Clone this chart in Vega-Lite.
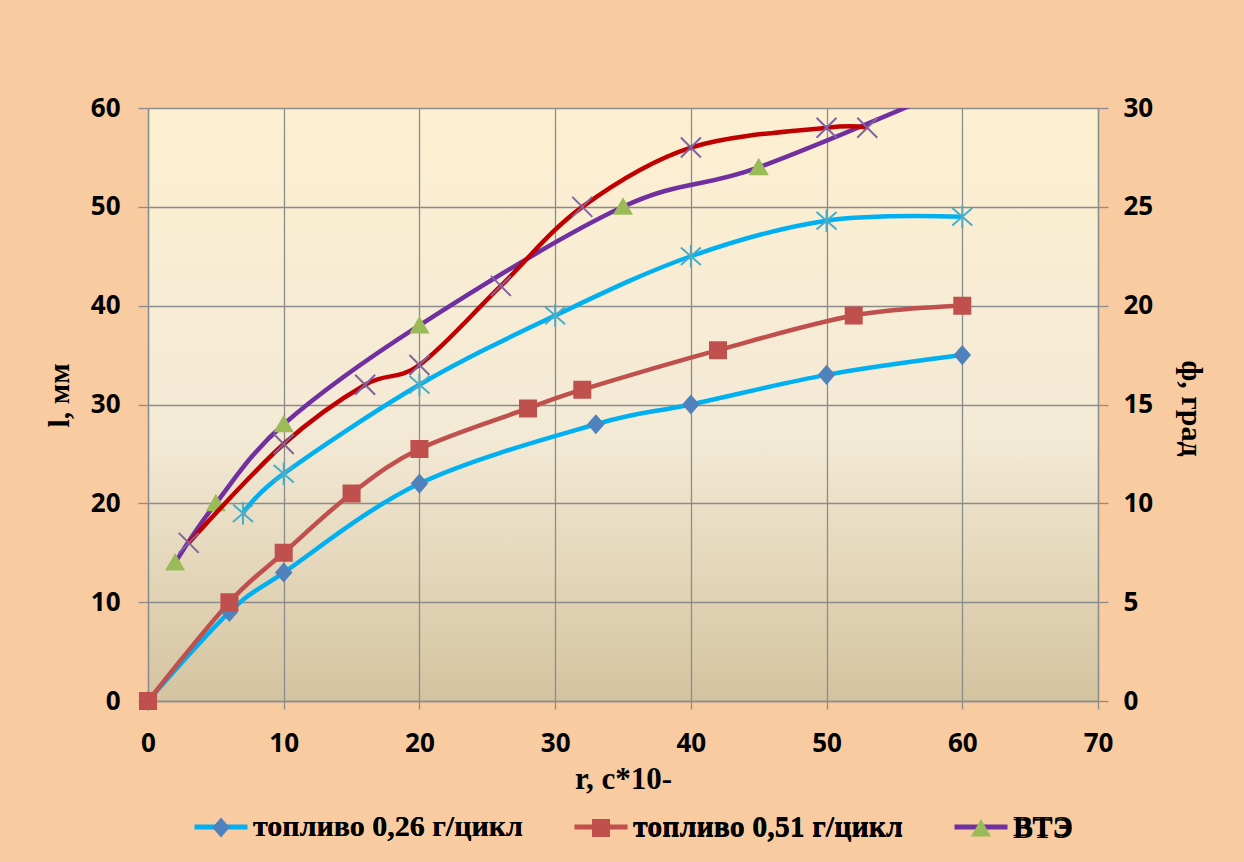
{
  "$schema": "https://vega.github.io/schema/vega-lite/v6.json",
  "width": 950,
  "height": 593,
  "autosize": {"type": "none"},
  "padding": {"left": 148, "top": 108, "right": 146, "bottom": 161},
  "background": "#f9cba0",
  "config": {
    "view": {
      "stroke": null,
      "fill": {"gradient": "linear", "x1": 0, "y1": 0, "x2": 0, "y2": 1,
        "stops": [{"offset": 0, "color": "#fdefd1"}, {"offset": 0.55, "color": "#f3ead6"}, {"offset": 1, "color": "#d4c39f"}]}
    },
    "axis": {
      "gridColor": "#8c8c8c", "gridWidth": 1.3, "gridOpacity": 1,
      "domainColor": "#8c8c8c", "domainWidth": 1.3,
      "tickColor": "#8c8c8c", "tickWidth": 1.3,
      "labelFont": "Open Sans", "labelFontWeight": "bold", "labelFontSize": 26, "labelColor": "#000000", "labelFlush": false,
      "titleFont": "Liberation Serif", "titleFontWeight": "bold", "titleFontSize": 30, "titleColor": "#000000"
    }
  },
  "datasets": {
    "left": [
      {"series": "топливо 0,26 г/цикл", "r": 0, "l": 0},
      {"series": "топливо 0,26 г/цикл", "r": 6, "l": 9},
      {"series": "топливо 0,26 г/цикл", "r": 10, "l": 13},
      {"series": "топливо 0,26 г/цикл", "r": 20, "l": 22},
      {"series": "топливо 0,26 г/цикл", "r": 33, "l": 28},
      {"series": "топливо 0,26 г/цикл", "r": 40, "l": 30},
      {"series": "топливо 0,26 г/цикл", "r": 50, "l": 33},
      {"series": "топливо 0,26 г/цикл", "r": 60, "l": 35},
      {"series": "топливо 0,51 г/цикл", "r": 0, "l": 0},
      {"series": "топливо 0,51 г/цикл", "r": 6, "l": 10},
      {"series": "топливо 0,51 г/цикл", "r": 10, "l": 15},
      {"series": "топливо 0,51 г/цикл", "r": 15, "l": 21},
      {"series": "топливо 0,51 г/цикл", "r": 20, "l": 25.5},
      {"series": "топливо 0,51 г/цикл", "r": 28, "l": 29.6},
      {"series": "топливо 0,51 г/цикл", "r": 32, "l": 31.5},
      {"series": "топливо 0,51 г/цикл", "r": 42, "l": 35.5},
      {"series": "топливо 0,51 г/цикл", "r": 52, "l": 39},
      {"series": "топливо 0,51 г/цикл", "r": 60, "l": 40},
      {"series": "ВТЭ", "r": 2, "l": 14},
      {"series": "ВТЭ", "r": 5, "l": 20},
      {"series": "ВТЭ", "r": 10, "l": 28},
      {"series": "ВТЭ", "r": 20, "l": 38},
      {"series": "ВТЭ", "r": 35, "l": 50},
      {"series": "ВТЭ", "r": 45, "l": 54},
      {"series": "ВТЭ", "r": 60, "l": 62.5}
    ],
    "right": [
      {"series": "φ 1", "r": 3, "phi": 8},
      {"series": "φ 1", "r": 10, "phi": 13},
      {"series": "φ 1", "r": 16, "phi": 16},
      {"series": "φ 1", "r": 20, "phi": 17},
      {"series": "φ 1", "r": 26, "phi": 21},
      {"series": "φ 1", "r": 32, "phi": 25},
      {"series": "φ 1", "r": 40, "phi": 28},
      {"series": "φ 1", "r": 50, "phi": 29},
      {"series": "φ 1", "r": 53, "phi": 29},
      {"series": "φ 2", "r": 7, "phi": 9.5},
      {"series": "φ 2", "r": 10, "phi": 11.5},
      {"series": "φ 2", "r": 20, "phi": 16},
      {"series": "φ 2", "r": 30, "phi": 19.5},
      {"series": "φ 2", "r": 40, "phi": 22.5},
      {"series": "φ 2", "r": 50, "phi": 24.3},
      {"series": "φ 2", "r": 60, "phi": 24.5}
    ]
  },
  "layer": [
    {
      "data": {"name": "left"},
      "encoding": {
        "x": {"field": "r", "type": "quantitative",
          "scale": {"domain": [0, 70], "nice": false, "zero": false},
          "axis": {"values": [0, 10, 20, 30, 40, 50, 60, 70], "grid": true, "tickSize": 8, "labelPadding": 21,
            "title": "r, с*10-", "titlePadding": 8, "titleFontSize": 31}},
        "y": {"field": "l", "type": "quantitative",
          "scale": {"domain": [0, 60], "nice": false},
          "axis": {"orient": "left", "values": [0, 10, 20, 30, 40, 50, 60], "grid": true, "tickSize": 10, "labelPadding": 18,
            "title": "l, мм", "titleX": -89, "titleY": 287, "titleAngle": -90, "titleBaseline": "middle", "titleAlign": "center"}}
      },
      "layer": [
        {
          "mark": {"type": "line", "interpolate": "cardinal", "strokeWidth": 4.5, "clip": true},
          "encoding": {
            "stroke": {"field": "series", "type": "nominal",
              "scale": {"domain": ["топливо 0,26 г/цикл", "топливо 0,51 г/цикл", "ВТЭ", "φ 1", "φ 2"],
                "range": ["#00B0F0", "#C0504D", "#7030A0", "#C00000", "#00B0F0"]},
              "legend": {"orient": "none", "legendX": 44, "legendY": 690, "direction": "horizontal", "title": null,
                "values": ["топливо 0,26 г/цикл", "топливо 0,51 г/цикл", "ВТЭ"],
                "symbolType": "stroke", "symbolSize": 2809, "symbolStrokeWidth": 5, "padding": 0,
                "labelFont": "Liberation Serif", "labelFontWeight": "bold", "labelFontSize": 30, "labelColor": "#000000",
                "labelLimit": 600, "labelOffset": 3, "columnPadding": 41}}
          }
        },
        {
          "transform": [{"filter": "datum.l <= 60"}],
          "mark": {"type": "point", "filled": true, "size": 2809, "opacity": 1, "strokeWidth": 0},
          "encoding": {
            "fill": {"field": "series", "type": "nominal",
              "scale": {"domain": ["топливо 0,26 г/цикл", "топливо 0,51 г/цикл", "ВТЭ"],
                "range": ["#4F81BD", "#C0504D", "#9BBB59"]},
              "legend": {"orient": "none", "legendX": 44, "legendY": 690, "direction": "horizontal", "title": null,
                "symbolSize": 2809, "symbolStrokeWidth": 5, "symbolStrokeColor": "transparent", "padding": 0,
                "labelFont": "Liberation Serif", "labelFontWeight": "bold", "labelFontSize": 30, "labelColor": "#000000",
                "labelLimit": 600, "labelOffset": 3, "columnPadding": 41}},
            "shape": {"field": "series", "type": "nominal",
              "scale": {"domain": ["топливо 0,26 г/цикл", "топливо 0,51 г/цикл", "ВТЭ"],
                "range": ["M-1,0L1,0M0,-0.38L0.33,0L0,0.38L-0.33,0Z", "M-1,0L1,0M-0.34,-0.34L0.34,-0.34L0.34,0.34L-0.34,0.34Z", "M-1,0L1,0M0,-0.36L0.38,0.3L-0.38,0.3Z"]},
              "legend": {"orient": "none", "legendX": 44, "legendY": 690, "direction": "horizontal", "title": null,
                "symbolSize": 2809, "symbolStrokeWidth": 5, "symbolStrokeColor": "transparent", "padding": 0,
                "labelFont": "Liberation Serif", "labelFontWeight": "bold", "labelFontSize": 30, "labelColor": "#000000",
                "labelLimit": 600, "labelOffset": 3, "columnPadding": 41}}
          }
        }
      ]
    },
    {
      "data": {"name": "right"},
      "encoding": {
        "x": {"field": "r", "type": "quantitative",
          "scale": {"domain": [0, 70], "nice": false, "zero": false},
          "axis": {"values": [0, 10, 20, 30, 40, 50, 60, 70], "grid": true, "tickSize": 8, "labelPadding": 21,
            "title": "r, с*10-", "titlePadding": 8, "titleFontSize": 31}},
        "y": {"field": "phi", "type": "quantitative",
          "scale": {"domain": [0, 30], "nice": false},
          "axis": {"orient": "right", "values": [0, 5, 10, 15, 20, 25, 30], "grid": false, "tickSize": 10, "labelPadding": 15,
            "title": "ф, град", "titleX": 92, "titleY": 300, "titleAngle": 90, "titleBaseline": "middle", "titleAlign": "center"}}
      },
      "layer": [
        {
          "mark": {"type": "line", "interpolate": "cardinal", "strokeWidth": 4.5, "clip": true},
          "encoding": {
            "stroke": {"field": "series", "type": "nominal"}
          }
        },
        {
          "transform": [{"filter": "datum.series == 'φ 1'"}],
          "mark": {"type": "point", "filled": false, "size": 2500, "opacity": 1, "strokeWidth": 2, "color": "#8064A2",
            "shape": "M-0.4,-0.4L0.4,0.4M-0.4,0.4L0.4,-0.4"}
        },
        {
          "transform": [{"filter": "datum.series == 'φ 2'"}],
          "mark": {"type": "point", "filled": false, "size": 2500, "opacity": 1, "strokeWidth": 2, "color": "#4BACC6",
            "shape": "M-0.4,-0.35L0.4,0.35M-0.4,0.35L0.4,-0.35M0,-0.45L0,0.45"}
        }
      ]
    }
  ],
  "resolve": {"scale": {"y": "independent"}}
}
